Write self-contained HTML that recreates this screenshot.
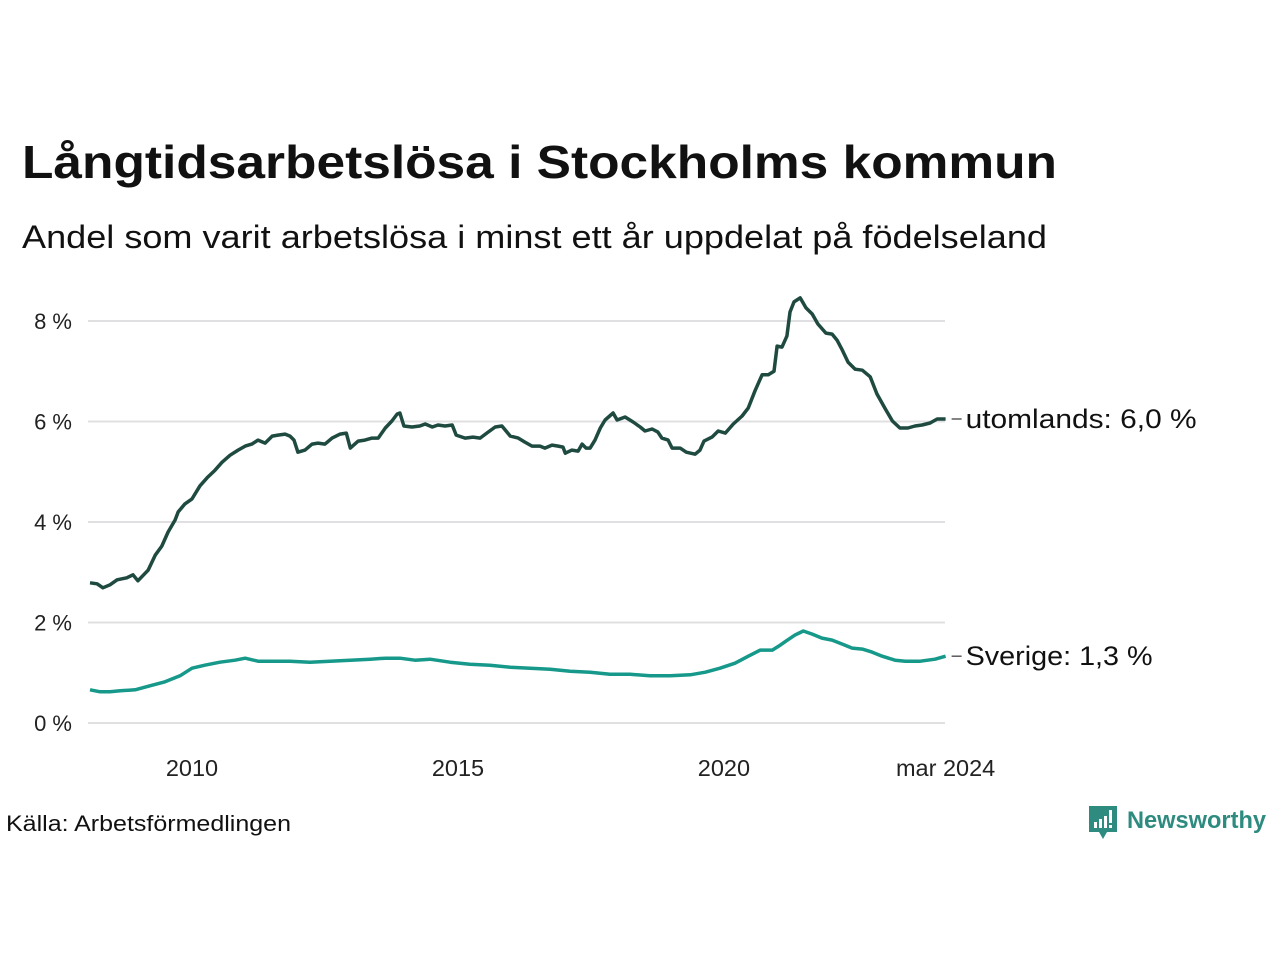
<!DOCTYPE html>
<html><head><meta charset="utf-8"><style>
body{margin:0;background:#fff;font-family:"Liberation Sans",sans-serif;}
svg text{font-family:"Liberation Sans",sans-serif;}
</style></head><body>
<svg width="1280" height="960" viewBox="0 0 1280 960">
<text x="22" y="178" font-size="46" font-weight="bold" fill="#111" textLength="1035" lengthAdjust="spacingAndGlyphs">Långtidsarbetslösa i Stockholms kommun</text>
<text x="22" y="248" font-size="32" fill="#111" textLength="1025" lengthAdjust="spacingAndGlyphs">Andel som varit arbetslösa i minst ett år uppdelat på födelseland</text>
<g id="grid"></g>
<g id="yticks"></g>
<g id="xticks"></g>
<g id="lines"></g>
<text x="6" y="831" font-size="22" fill="#111" textLength="285" lengthAdjust="spacingAndGlyphs">Källa: Arbetsförmedlingen</text>
<g>
<path d="M1089 806 h28 v26 h-10 l-4 7 l-4 -7 h-10 z" fill="#2e8b7f"/>
<rect x="1094" y="822" width="3" height="6" fill="#fff"/><rect x="1099" y="819" width="3" height="9" fill="#fff"/><rect x="1104" y="816" width="3" height="12" fill="#fff"/><rect x="1109" y="810" width="3" height="13" fill="#fff"/><rect x="1109" y="825" width="3" height="3" fill="#fff"/>
<text x="1127" y="828" font-size="24" font-weight="bold" fill="#2e8b7f" textLength="139" lengthAdjust="spacingAndGlyphs">Newsworthy</text>
</g>
</svg>
<script>
const yTicks=[0,2,4,6,8];
const yTickLabels=["0 %","2 %","4 %","6 %","8 %"];
const xTickMonths=[24,84,144,194];
const xTickLabels=["2010","2015","2020","mar 2024"];
const utlMonths=[1,2.6,3.9,5.5,7.1,9.3,10.7,11.8,14.1,15.7,17.2,18.6,20.2,20.9,22.4,24,25.8,27.4,29.2,30.8,32.6,34.4,36,37.5,38.9,40.5,42.1,43.4,45,46.1,47,47.9,49.5,51.1,52.4,54,55.6,57.4,58.8,59.7,61.5,63,64.6,66,67.6,69.1,70.3,70.9,71.8,73.6,75.4,76.6,78.2,79.5,81.1,82.7,83.6,85.6,87.4,89,90.8,92.4,93.9,95.8,97.6,99.1,100.7,102.5,103.6,105.2,106.6,107.7,108.2,109.7,111.1,112,112.9,113.8,114.9,116.1,117.2,119,119.9,121.7,123.5,125.1,126.2,127.8,129.1,130,131.4,132.3,134.1,135.5,137.5,138.6,139.5,141.3,142.7,144.3,146.1,148.1,149.5,151,152.6,154,155.3,156,157.1,158.2,158.9,159.8,161.2,162.5,163.9,165.2,167,168.4,169.5,170.7,172,173.6,175.2,177,178.5,180.4,182,183.7,185.5,187.1,188.7,190.5,192.1,194];
const utlValues=[2.79,2.77,2.69,2.75,2.85,2.89,2.95,2.83,3.04,3.34,3.52,3.80,4.04,4.20,4.36,4.46,4.72,4.88,5.03,5.19,5.33,5.43,5.51,5.55,5.63,5.57,5.71,5.73,5.75,5.71,5.63,5.39,5.43,5.55,5.57,5.55,5.67,5.75,5.77,5.47,5.61,5.63,5.67,5.67,5.87,6.01,6.15,6.17,5.91,5.89,5.91,5.95,5.89,5.93,5.91,5.93,5.73,5.67,5.69,5.67,5.79,5.89,5.91,5.71,5.67,5.59,5.51,5.51,5.47,5.53,5.51,5.49,5.37,5.43,5.41,5.55,5.47,5.47,5.63,5.87,6.03,6.17,6.03,6.09,5.99,5.89,5.81,5.85,5.79,5.67,5.63,5.47,5.47,5.39,5.35,5.43,5.61,5.69,5.81,5.77,5.95,6.11,6.27,6.61,6.93,6.93,7.00,7.50,7.48,7.70,8.18,8.38,8.46,8.26,8.14,7.94,7.76,7.74,7.62,7.42,7.18,7.04,7.02,6.89,6.55,6.25,6.01,5.87,5.87,5.91,5.93,5.97,6.05,6.05];
const sveMonths=[1,3.3,5.5,7.8,11.2,14.5,17.9,21.3,24,26.9,30.3,33.7,36,38.9,41.6,46.1,50.6,55.1,59.7,64.2,67.6,70.9,74.3,77.7,82.2,86.7,91.2,95.8,100.3,104.8,109.3,113.8,118.3,122.8,127.3,131.9,136.4,139.8,143.1,146.5,149.5,152.2,154.9,156.7,158,160,161.9,163.9,166.1,168.4,170.7,172.9,175.2,177.4,179.7,182.6,184.9,188.3,191.6,194];
const sveValues=[0.66,0.62,0.62,0.64,0.66,0.74,0.82,0.94,1.09,1.15,1.21,1.25,1.29,1.23,1.23,1.23,1.21,1.23,1.25,1.27,1.29,1.29,1.25,1.27,1.21,1.17,1.15,1.11,1.09,1.07,1.03,1.01,0.97,0.97,0.94,0.94,0.96,1.01,1.09,1.19,1.33,1.45,1.45,1.55,1.63,1.75,1.83,1.77,1.69,1.65,1.57,1.49,1.47,1.41,1.33,1.25,1.23,1.23,1.27,1.33];
const NS="http://www.w3.org/2000/svg";
const xS=m=>85.6+m*4.433;
const yS=v=>723-v*50.25;
function mk(t,a,p){const e=document.createElementNS(NS,t);for(const k in a)e.setAttribute(k,a[k]);p.appendChild(e);return e;}
const grid=document.getElementById('grid'),yt=document.getElementById('yticks'),xt=document.getElementById('xticks'),ln=document.getElementById('lines');
yTicks.forEach((v,i)=>{
 const l=mk('line',{x1:88,x2:945,y1:yS(v),y2:yS(v),stroke:'#e0e0e3','stroke-width':2},grid);
 
 
 const t=mk('text',{x:72,y:yS(v)+8,'font-size':22,fill:'#222','text-anchor':'end'},yt);
 t.textContent=yTickLabels[i];
 
 
});
xTickMonths.forEach((m,i)=>{
 const t=mk('text',{x:xS(m),y:776,'font-size':23.5,fill:'#222','text-anchor':'middle'},xt);
 t.textContent=xTickLabels[i];
 
 
});
function line(ms,vs,col,name,label,w){
 const d=ms.map((m,i)=>(i?'L':'M')+xS(m).toFixed(1)+' '+yS(vs[i]).toFixed(1)).join(' ');
 const p=mk('path',{d:d,fill:'none',stroke:col,'stroke-width':3.5,'stroke-linejoin':'round'},ln);
 
 
 const lx=xS(ms[ms.length-1]),ly=yS(vs[vs.length-1]);
 const tk=mk('line',{x1:lx+6,x2:lx+16,y1:ly,y2:ly,stroke:'#333','stroke-width':1.2},ln);
 
 
 const t=mk('text',{x:lx+20,y:ly+9,'font-size':27,fill:'#111',textLength:w,lengthAdjust:'spacingAndGlyphs'},ln);
 t.textContent=label+': '+vs[vs.length-1].toFixed(1).replace('.',',')+' %';
 
 
}
line(utlMonths,utlValues,'#1f4a40','utomlands-line','utomlands',231);
line(sveMonths,sveValues,'#16998a','sverige-line','Sverige',187);
</script>
</body></html>
